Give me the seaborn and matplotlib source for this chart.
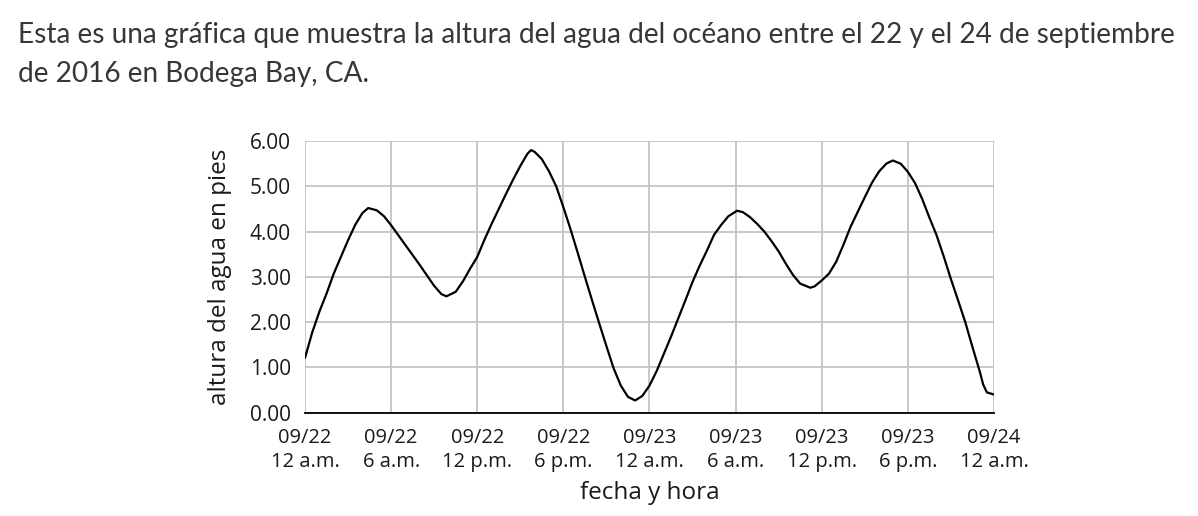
import pandas as pd
import matplotlib.pyplot as plt
import seaborn as sns

# hours after 09/22 12 a.m., and water height (ft)
hours = [0, 0.5, 1, 1.5, 2, 2.5, 3, 3.5, 4, 4.4, 5, 5.5, 6, 6.5, 7, 7.5, 8, 8.5,
         9, 9.5, 9.85, 10.5, 11, 11.5, 12, 12.5, 13, 13.5, 14, 14.5, 15, 15.5,
         15.75, 16, 16.5, 17, 17.5, 18, 18.5, 19, 19.5, 20, 20.5, 21, 21.5, 22,
         22.5, 23, 23.5, 24, 24.5, 25, 25.5, 26, 26.5, 27, 27.5, 28, 28.5, 29,
         29.5, 30.1, 30.5, 31, 31.5, 32, 32.5, 33, 33.5, 34, 34.5, 35.2, 35.5,
         36, 36.5, 37, 37.5, 38, 38.5, 39, 39.5, 40, 40.5, 40.95, 41.5, 42,
         42.5, 43, 43.5, 44, 44.5, 45, 45.5, 46, 46.5, 47, 47.25, 47.5, 48]
height = [1.21, 1.77, 2.23, 2.63, 3.07, 3.44, 3.81, 4.15, 4.41, 4.52, 4.47, 4.34,
          4.14, 3.92, 3.70, 3.48, 3.26, 3.03, 2.80, 2.62, 2.57, 2.67, 2.90, 3.18,
          3.44, 3.82, 4.17, 4.50, 4.83, 5.15, 5.45, 5.72, 5.80, 5.76, 5.60, 5.33,
          5.00, 4.54, 4.05, 3.53, 3.00, 2.48, 1.97, 1.47, 0.98, 0.60, 0.35, 0.27,
          0.37, 0.60, 0.92, 1.30, 1.68, 2.08, 2.48, 2.89, 3.25, 3.58, 3.93, 4.15,
          4.34, 4.46, 4.43, 4.32, 4.17, 4.00, 3.79, 3.56, 3.29, 3.04, 2.85, 2.76,
          2.79, 2.92, 3.07, 3.33, 3.70, 4.10, 4.43, 4.76, 5.08, 5.33, 5.50, 5.57,
          5.50, 5.32, 5.07, 4.72, 4.31, 3.92, 3.45, 2.95, 2.48, 2.00, 1.45, 0.92,
          0.62, 0.45, 0.40]

tick_hours = [0, 6, 12, 18, 24, 30, 36, 42, 48]
tick_labels = ["09/22\n12 a.m.", "09/22\n6 a.m.", "09/22\n12 p.m.", "09/22\n6 p.m.",
               "09/23\n12 a.m.", "09/23\n6 a.m.", "09/23\n12 p.m.", "09/23\n6 p.m.",
               "09/24\n12 a.m."]
y_ticks = [0, 1, 2, 3, 4, 5, 6]

title = ("Esta es una gráfica que muestra la altura del agua del océano entre el 22 y el 24 de septiembre\n"
         "de 2016 en Bodega Bay, CA.")

df = pd.DataFrame({"hora": hours, "altura": height})

sns.set_style("white")
plt.rcParams["font.family"] = ["Open Sans", "DejaVu Sans"]

fig = plt.figure(figsize=(11.98, 5.16), dpi=100)
ax = fig.add_axes([0.2546, 0.2002, 0.5751, 0.5265])

sns.lineplot(data=df, x="hora", y="altura", color="black", linewidth=1.6,
             solid_joinstyle="round", ax=ax)

ax.set_xlim(0, 48)
ax.set_ylim(0, 6)
ax.set_xticks(tick_hours)
ax.set_xticklabels(tick_labels, fontsize=14.5, linespacing=1.3)
ax.set_yticks(y_ticks)
ax.set_yticklabels([f"{v:.2f}" for v in y_ticks], fontsize=15)
ax.tick_params(length=0, colors="#1a1a1a")
ax.tick_params(axis="y", pad=10)
ax.tick_params(axis="x", pad=11)
ax.grid(True, color="#c4c4c4", linewidth=1.3)
ax.set_axisbelow(True)
for side in ["top", "right", "left"]:
    ax.spines[side].set_visible(False)
ax.spines["bottom"].set_color("black")
ax.spines["bottom"].set_linewidth(1.3)

ax.set_xlabel("fecha y hora", fontsize=17.5, labelpad=6, color="#1a1a1a")
ax.set_ylabel("altura del agua en pies", fontsize=17.5, labelpad=13, color="#1a1a1a")

fig.text(0.015, 0.957, title, fontsize=20.2, color="#3b3535", va="top", ha="left",
         linespacing=1.62, family=["Lato", "DejaVu Sans"])

fig.savefig("out.png", dpi=100)
